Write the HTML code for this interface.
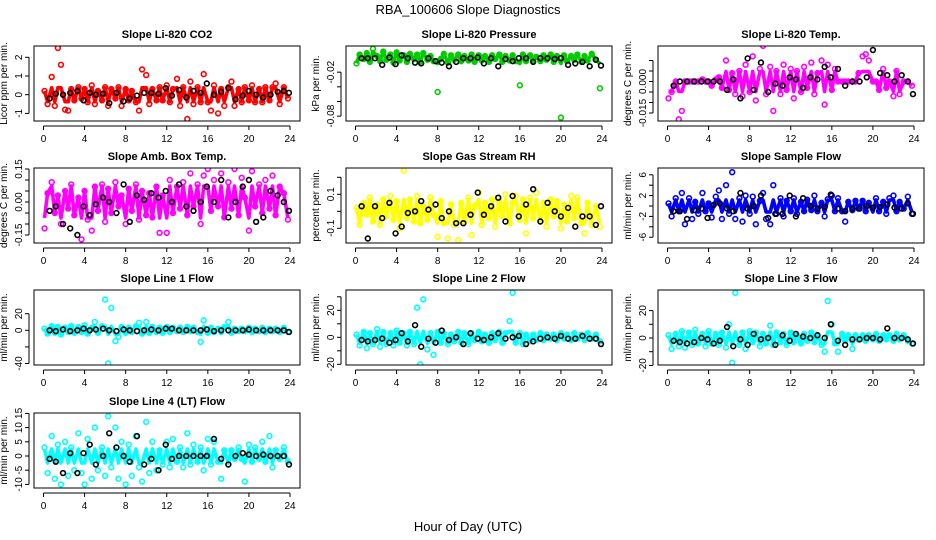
<!DOCTYPE html>
<html><head><meta charset="utf-8"><style>
html,body{margin:0;padding:0;background:#fff}
svg{display:block;font-family:"Liberation Sans",sans-serif}
</style></head><body>
<svg id="chart" width="936" height="540" viewBox="0 0 936 540" xmlns="http://www.w3.org/2000/svg">
<rect x="0" y="0" width="936" height="540" fill="#fff"/>
<text x="468" y="14" text-anchor="middle" font-size="13">RBA_100606  Slope Diagnostics</text>
<text x="468" y="531" text-anchor="middle" font-size="13">Hour of Day (UTC)</text>
</svg>
<script>
// shared hours
const hoursColored=[0.1,0.4,0.8,1.1,1.4,1.7,2.1,2.4,2.7,3.0,3.4,3.7,4.0,4.3,4.7,5.0,5.3,5.7,6.0,6.3,6.6,7.0,7.3,7.6,8.0,8.3,8.6,9.0,9.3,9.6,10.0,10.3,10.6,11.0,11.3,11.6,12.0,12.3,12.6,13.0,13.3,13.6,14.0,14.3,14.6,15.0,15.3,15.6,16.0,16.3,16.6,17.0,17.3,17.6,18.0,18.3,18.6,19.0,19.3,19.6,20.0,20.3,20.6,21.0,21.3,21.6,22.0,22.3,22.6,23.0,23.4,23.8];
const hoursBlack=[0.6,1.2,1.9,2.6,3.3,3.9,4.5,5.1,5.8,6.4,7.1,7.8,8.4,9.1,9.8,10.5,11.2,11.9,12.5,13.2,13.9,14.6,15.3,15.9,16.6,17.3,18.0,18.7,19.4,20.0,20.7,21.4,22.1,22.8,23.4,23.9];
const xTicks=[0,4,8,12,16,20,24];

const co2Colored=[0.2,-0.5,0.95,-0.6,2.5,1.6,-0.8,-0.85,0.3,-0.3,0.4,-0.2,0.3,-0.4,0.5,-0.5,0.2,-0.3,0.4,-0.6,0.3,-0.2,0.4,-0.6,0.3,-0.3,0.2,-0.4,-0.85,1.35,1.05,-0.5,0.3,-0.3,0.4,-0.3,0.5,-0.4,0.3,0.85,-0.6,0.4,-1.3,0.7,-0.5,0.4,-0.4,1.1,-0.4,-0.85,0.5,-1.0,0.3,-0.6,0.4,0.7,-0.6,0.3,-0.4,0.4,-0.3,0.5,-0.4,0.3,-0.4,0.4,-0.3,0.4,0.6,-0.5,0.4,-0.2];
const co2Black=[-0.2,0.05,0.0,0.1,0.2,-0.3,0.1,0.0,0.05,-0.45,0.1,-0.35,-0.2,-0.05,0.1,0.1,0.05,0.35,-0.05,0.25,-0.15,0.2,0.1,0.6,0.0,0.15,0.35,-0.25,-0.05,0.2,0.0,-0.15,0.0,0.15,0.2,0.1];
const presColored=[-0.008,0.004,-0.002,0.006,-0.006,0.012,0.002,-0.005,0.008,-0.003,0.004,-0.007,0.007,-0.004,0.003,-0.006,0.005,-0.002,0.004,-0.006,0.006,-0.003,0.002,-0.005,-0.047,-0.002,0.005,-0.007,0.003,-0.003,0.004,-0.005,0.002,-0.004,0.004,-0.006,0.003,-0.004,0.002,-0.006,0.003,-0.002,0.004,-0.006,0.002,-0.004,0.003,-0.005,-0.038,0.004,-0.005,0.003,-0.004,0.001,-0.005,0.003,-0.003,0.004,-0.006,0.002,-0.082,0.003,-0.005,0.002,-0.003,0.004,-0.006,0.002,-0.004,0.005,-0.003,-0.042];
const presBlack=[-0.001,-0.001,-0.001,-0.01,0.0,-0.009,0.003,-0.001,-0.007,-0.008,-0.001,-0.005,-0.007,-0.012,-0.006,-0.001,-0.001,0.0,-0.008,-0.001,-0.012,-0.002,-0.005,-0.001,-0.001,-0.006,-0.001,-0.001,-0.002,-0.001,-0.01,-0.008,-0.006,-0.012,-0.003,-0.011];
const tempColored=[-0.008,-0.005,0,-0.018,-0.014,0,0,0,0,0,0.001,0,0,-0.002,0.001,0.002,-0.003,0.01,-0.004,0.004,-0.006,0.005,-0.007,0.008,-0.005,0.012,-0.009,0.006,0.017,-0.006,0.007,-0.014,0.005,-0.006,0.008,-0.004,0.006,-0.008,0.005,-0.005,0.007,-0.003,0.009,-0.006,0.004,0.010,-0.011,0.008,-0.004,0.006,0,0,0,0,0,0,0.004,0.012,0.013,0.010,0,0,-0.004,0.006,-0.003,0,-0.007,0.005,-0.006,0,0,-0.002];
const tempBlack=[-0.002,0,0,0,0,0,0,0,-0.004,0.001,-0.008,0.011,-0.004,0.009,-0.005,-0.001,-0.002,0.002,0.001,-0.003,0.002,0.001,0.007,0.002,0.006,-0.002,0,0,0.002,0.015,0.004,0.003,0,0.003,0,-0.006];
const ambColored=[-0.12,0.04,0.09,-0.05,0.03,-0.1,0.05,-0.03,0.08,-0.06,0.02,-0.17,0.05,-0.08,-0.13,0.07,-0.04,0.08,-0.09,0.06,-0.05,0.09,-0.02,0.03,-0.1,0.06,-0.04,0.08,-0.08,0.05,-0.06,0.04,-0.07,0.07,-0.14,0.03,-0.14,0.1,-0.05,0.07,-0.03,0.09,-0.06,0.13,-0.02,0.08,-0.1,0.12,0.15,-0.04,0.1,-0.02,0.13,-0.07,0.09,-0.03,0.15,-0.06,0.11,0.02,-0.13,0.14,-0.02,0.08,-0.05,0.1,-0.03,0.12,-0.06,0.07,0.04,-0.08];
const ambBlack=[-0.04,-0.02,-0.1,-0.12,-0.15,-0.02,-0.06,-0.01,0.02,0.0,-0.05,0.08,-0.09,0.03,0.01,0.04,0.02,0.05,0.0,0.08,-0.02,-0.04,0.0,0.07,0.0,0.1,-0.07,0.0,0.07,0.10,-0.09,-0.07,0.05,0.03,0.0,-0.04];
const rhColored=[0.02,-0.08,0.05,-0.02,0.08,-0.06,0.04,-0.08,0.07,-0.03,0.09,-0.05,0.06,-0.1,0.24,-0.04,0.07,-0.06,0.09,-0.07,0.03,-0.05,0.08,-0.02,-0.15,0.06,-0.07,-0.16,0.04,-0.08,-0.17,0.05,-0.06,0.08,-0.14,0.03,0.11,-0.08,0.05,-0.04,0.07,-0.09,0.06,-0.03,0.1,-0.07,0.05,0.09,-0.05,0.07,-0.13,0.08,-0.04,0.11,-0.06,0.05,-0.09,0.07,-0.03,0.06,-0.1,0.04,-0.06,0.09,-0.04,0.08,-0.07,-0.13,0.05,-0.08,0.03,-0.09];
const rhBlack=[0.03,-0.16,0.03,-0.04,0.05,-0.13,-0.09,-0.01,0.0,0.06,0.01,0.04,-0.04,0.0,-0.07,-0.07,-0.02,0.11,-0.02,0.03,0.08,-0.06,0.09,-0.03,0.04,0.13,-0.06,0.05,0.0,-0.03,0.02,-0.09,-0.03,-0.03,-0.08,0.03];
const sampleColored=[0.5,-2,1.5,-1,2.5,-3.5,1.5,-2.5,0.8,-1.5,2.5,-1,0.5,-2.2,1.8,3,-2.5,4,-1.5,6.5,-2.5,1.5,-3,2,-1.5,1.8,-3.5,1,2.5,-2.5,-3.5,4,-1.5,1.5,-2,1,-1,1.5,-1.5,0.8,-1,1.2,-0.8,2,-1,0.6,-2,1.3,2,-1,1.5,-1,-3,0.8,-0.8,1,-0.5,1,-1,0.6,-8.5,1.5,-1,0.8,-1.5,1.5,2,-1,0.8,-0.5,1.8,-1.5];
const sampleBlack=[-1,-1,-2.5,-0.8,-0.5,-2.3,0.2,0.5,-0.5,-1,2.5,-0.5,0,2,-2.3,-1.5,-1.5,2.0,-2,1.5,0,-0.5,-0.2,2.2,-0.5,-1,-0.5,-0.5,0,-0.3,-0.2,0.3,-0.3,-0.5,0.5,-1.5];
const line1Colored=[2,-4,5,-3,4,-5,3,-2,5,-3,4,-2,6,-4,3,10,-3,5,37,-40,27,-13,-8,4,-3,3,-2,5,9,-4,10,-3,4,-2,3,-3,4,-2,3,-1,3,-2,4,-1,3,-2,-14,12,-3,3,-2,2,-2,4,10,-3,2,-1,2,-1,3,-2,2,-1,3,-2,2,-1,2,-2,3,-2];
const line1Black=[0,-1,1,-1,0,2,0,1,2,0,-1,1,0,-1,0,1,0,2,2,0,0,0,0,1,-1,0,0,0,0,1,0,0,0,0,0,-2];
const line2Colored=[2,-6,4,-8,3,-5,6,-7,4,-5,3,-6,5,-4,3,-6,4,-5,22,-20,28,-9,3,-13,4,-4,3,-5,2,-3,4,-4,3,-5,3,-2,4,-3,2,-4,3,-2,4,-4,3,12,33,-4,3,-5,2,-3,2,-2,3,-2,2,-1,2,-2,3,-1,2,-2,3,-1,2,-2,3,-1,2,-3];
const line2Black=[-2,-3,-2,-1,-4,-2,3,-3,9,-7,-1,-4,5,-2,0,-5,3,-1,-2,0,3,-1,0,1,-5,-3,-1,0,-1,1,-1,-1,1,-1,-1,-5];
const line3Colored=[2,-8,3,-6,5,-7,4,-5,6,-4,3,-6,5,-4,3,-5,4,-7,10,-18,33,-5,4,-8,5,-3,4,-6,3,-4,9,-5,4,-3,3,-5,4,-3,2,-4,3,-2,4,-3,2,-5,-10,27,10,-4,-10,3,-2,2,-8,2,-1,2,-2,2,-1,3,-2,2,-1,2,-2,3,-1,2,-2,-4];
const line3Black=[-2,-3,-4,-3,0,-1,-4,-2,8,-6,-1,-5,3,-1,0,-5,2,-2,3,1,0,2,0,10,-2,-5,-1,-1,0,0,-1,7,0,0,-1,-4];
const line4Colored=[3,-6,7,-8,4,-10,5,-7,3,-5,8,-6,-10,6,-8,10,-5,3,-7,14,-4,10,-8,5,-10,4,-7,7,-4,-9,12,-6,5,-5,2,-3,5,-4,6,-2,3,-4,8,-3,4,-2,3,-5,6,-3,5,-2,-8,2,-3,2,-1,3,-1,-9,4,-2,3,-1,5,-2,7,-4,2,-1,3,-2];
const line4Black=[-1,-2,-6,1,-6,1,4,-3,0,8,3,0,-2,7,-3,-1,-5,4,-1,0,0,0,0,0,6,-1,-3,0,1,0.5,0,0.5,0,0,0,-3];

const panels=[
 {name:'co2',title:'Slope Li-820 CO2',ylab:'Licor ppm per min.',col:0,row:0,color:'#ff0000',c:co2Colored,b:co2Black,zero:94.7,scale:18.7,band:7,ticks:[-1,0,1,2],labels:['-1','0','1','2']},
 {name:'pressure',title:'Slope Li-820 Pressure',ylab:'kPa per min.',col:1,row:0,color:'#00cc00',c:presColored,b:presBlack,zero:57.5,scale:733,band:6,ticks:[-0.08,-0.06,-0.04,-0.02],labels:['-0.08','','','-0.02']},
 {name:'li820-temp',title:'Slope Li-820 Temp.',ylab:'degrees C per min.',col:2,row:0,color:'#ff00ff',c:tempColored,b:tempBlack,zero:81.5,scale:2100,band:10,ticks:[-0.015,-0.01,-0.005,0,0.005,0.01],labels:['-0.015','','','0.000','','']},
 {name:'amb-box-temp',title:'Slope Amb. Box Temp.',ylab:'degrees C per min.',col:0,row:1,color:'#ff00ff',c:ambColored,b:ambBlack,zero:202,scale:220,band:16,ticks:[-0.15,-0.1,-0.05,0,0.05,0.1,0.15],labels:['-0.15','','','0.00','','','0.15']},
 {name:'gas-stream-rh',title:'Slope Gas Stream RH',ylab:'percent per min.',col:1,row:1,color:'#ffff00',c:rhColored,b:rhBlack,zero:211.3,scale:170,band:12,ticks:[-0.1,0,0.1,0.2],labels:['-0.1','','0.1','']},
 {name:'sample-flow',title:'Slope Sample Flow',ylab:'ml/min per min.',col:2,row:1,color:'#0000ff',c:sampleColored,b:sampleBlack,zero:206,scale:5.2,band:6,ticks:[-6,-4,-2,0,2,4,6],labels:['-6','','-2','','2','','6']},
 {name:'line1-flow',title:'Slope Line 1 Flow',ylab:'ml/min per min.',col:0,row:2,color:'#00ffff',c:line1Colored,b:line1Black,zero:330.3,scale:0.83,band:4,ticks:[-40,-20,0,20],labels:['-40','','0','20']},
 {name:'line2-flow',title:'Slope Line 2 Flow',ylab:'ml/min per min.',col:1,row:2,color:'#00ffff',c:line2Colored,b:line2Black,zero:337.3,scale:1.35,band:6,ticks:[-20,-10,0,10,20,30],labels:['-20','','0','','20','']},
 {name:'line3-flow',title:'Slope Line 3 Flow',ylab:'ml/min per min.',col:2,row:2,color:'#00ffff',c:line3Colored,b:line3Black,zero:338,scale:1.37,band:6,ticks:[-20,-10,0,10,20],labels:['-20','','0','','20']},
 {name:'line4-flow',title:'Slope Line 4 (LT) Flow',ylab:'ml/min per min.',col:0,row:3,color:'#00ffff',c:line4Colored,b:line4Black,zero:456,scale:2.84,band:7,ticks:[-10,-5,0,5,10,15],labels:['-10','-5','0','5','10','15']}
];
const NS='http://www.w3.org/2000/svg';
const svg=document.getElementById('chart');
function mk(tag,attrs,parent){const e=document.createElementNS(NS,tag);for(const k in attrs)e.setAttribute(k,attrs[k]);(parent||svg).appendChild(e);return e;}
const colLeft=[34,346,658], rowTop=[46,168,290,413], W=266, H=75;
panels.forEach(p=>{
  const L=colLeft[p.col], T=rowTop[p.row], B=T+H;
  const xs=h=>L+9.5+h*(W-19.5)/24;
  const ys=v=>p.zero-v*p.scale;
  const g=mk('g',{});
  
  
  const clip=mk('clipPath',{id:'clip-'+p.name},g);
  mk('rect',{x:L,y:T,width:W,height:H},clip);
  const t=mk('text',{x:L+W/2,y:T-8,'text-anchor':'middle','font-size':'11','font-weight':'bold'},g);
  t.textContent=p.title;
  
  
  const yl=mk('text',{transform:`translate(${L-27},${T+H/2}) rotate(-90)`,'text-anchor':'middle','font-size':'10'},g);
  yl.textContent=p.ylab;
  
  
  const pg=mk('g',{'clip-path':`url(#clip-${p.name})`},g);
  const n=Math.min(hoursColored.length,p.c.length);
  let pts=[];
  for(let i=0;i<n;i++){
    let y=ys(p.c[i]);
    y=Math.max(p.zero-p.band,Math.min(p.zero+p.band,y));
    pts.push(xs(hoursColored[i]).toFixed(1)+','+y.toFixed(1));
  }
  const band=mk('polyline',{points:pts.join(' '),fill:'none',stroke:p.color,'stroke-width':'3.6','stroke-linejoin':'round'},pg);
  
  
  for(let i=0;i<n;i++){
    const c=mk('circle',{cx:xs(hoursColored[i]),cy:ys(p.c[i]),r:2.4,fill:'none',stroke:p.color,'stroke-width':'1.6'},pg);
    
    
  }
  const m=Math.min(hoursBlack.length,p.b.length);
  for(let i=0;i<m;i++){
    const c=mk('circle',{cx:xs(hoursBlack[i]),cy:ys(p.b[i]),r:2.4,fill:'none',stroke:'#000','stroke-width':'1.6'},pg);
    
    
  }
  const box=mk('rect',{x:L,y:T,width:W,height:H,fill:'none',stroke:'#000','stroke-width':'1'},g);
  
  
  mk('line',{x1:xs(0),x2:xs(24),y1:B+5,y2:B+5,stroke:'#000'},g);
  xTicks.forEach(h=>{
    mk('line',{x1:xs(h),x2:xs(h),y1:B+5,y2:B+9,stroke:'#000'},g);
    const tl=mk('text',{x:xs(h),y:B+21,'text-anchor':'middle','font-size':'10'},g);
    tl.textContent=h;
    
    
  });
  const yv=p.ticks.map(ys);
  mk('line',{x1:L-5,x2:L-5,y1:Math.min(...yv),y2:Math.max(...yv),stroke:'#000'},g);
  p.ticks.forEach((v,i)=>{
    mk('line',{x1:L-9,x2:L-5,y1:ys(v),y2:ys(v),stroke:'#000'},g);
    if(p.labels[i]){
      const tl=mk('text',{transform:`translate(${L-12},${ys(v)}) rotate(-90)`,'text-anchor':'middle','font-size':'10'},g);
      tl.textContent=p.labels[i];
      
      
    }
  });
});
</script>
</body></html>
